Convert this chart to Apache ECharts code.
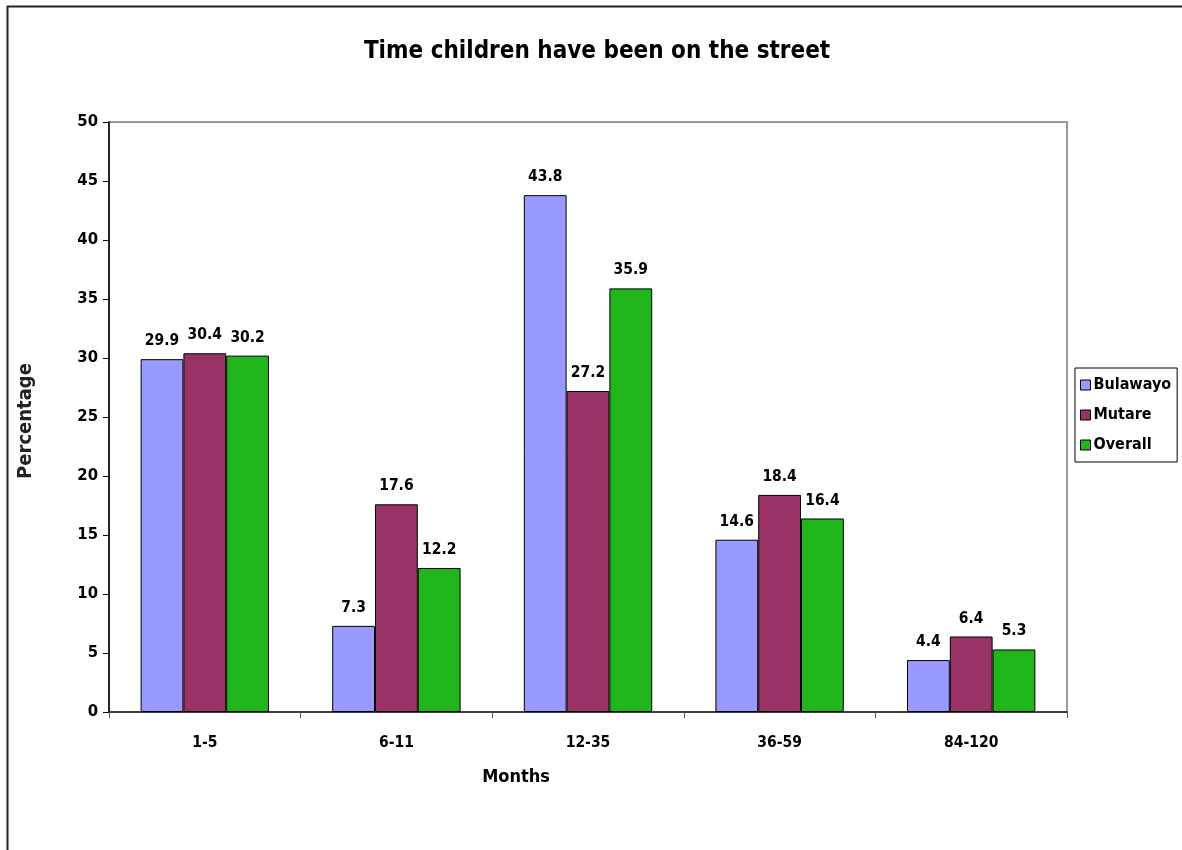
<!DOCTYPE html>
<html>
<head>
<meta charset="utf-8">
<script src="https://cdn.jsdelivr.net/npm/echarts@6/dist/echarts.min.js"></script>
<style>
  html, body { margin: 0; padding: 0; background: #fff; }
  #chart { width: 1182px; height: 850px; }
</style>
</head>
<body>
<div id="chart"></div>
<script>
// Duration categories (months) and percentage per site
const categories = ['1-5', '6-11', '12-35', '36-59', '84-120'];
const bulawayo = [29.9, 7.3, 43.8, 14.6, 4.4];
const mutare = [30.4, 17.6, 27.2, 18.4, 6.4];
const overall = [30.2, 12.2, 35.9, 16.4, 5.3];
const seriesNames = ['Bulawayo', 'Mutare', 'Overall'];
const yTicks = [0, 5, 10, 15, 20, 25, 30, 35, 40, 45, 50];

const FONT = '"DejaVu Sans Condensed", "Liberation Sans", Arial, sans-serif';
const colors = ['#9999FF', '#993366', '#20B51B'];

const chart = echarts.init(document.getElementById('chart'), null, { renderer: 'canvas' });

function barSeries(name, data, color) {
  return {
    name: name,
    type: 'bar',
    data: data,
    barGap: '0%',
    barCategoryGap: '33%',
    itemStyle: { color: color, borderColor: '#000', borderWidth: 1 },
    label: {
      show: true,
      position: 'top',
      distance: 10,
      fontFamily: FONT,
      fontWeight: 'bold',
      fontSize: 15.5,
      color: '#000',
      formatter: p => p.value.toFixed(1)
    }
  };
}

chart.setOption({
  animation: false,
  backgroundColor: '#fff',
  textStyle: { fontFamily: FONT },
  title: {
    text: 'Time children have been on the street',
    left: 592,
    top: 35,
    textAlign: 'center',
    textStyle: { fontFamily: FONT, fontWeight: 'bold', fontSize: 24, color: '#000' }
  },
  legend: {
    orient: 'vertical',
    left: 1075,
    top: 368,
    width: 102,
    padding: [9, 6, 9, 5],
    itemGap: 14,
    itemWidth: 10,
    itemHeight: 10,
    borderColor: '#000',
    borderWidth: 1,
    icon: 'rect',
    itemStyle: { borderColor: '#000', borderWidth: 1 },
    textStyle: { fontFamily: FONT, fontWeight: 'bold', fontSize: 16, color: '#000', padding: [0, 0, 0, -2] },
    data: seriesNames
  },
  grid: {
    left: 109,
    right: 115,
    top: 122,
    bottom: 138,
    show: true,
    borderColor: '#999',
    borderWidth: 2
  },
  xAxis: {
    type: 'category',
    data: categories,
    axisLine: { lineStyle: { color: '#222', width: 1.5 } },
    axisTick: { show: true, length: 6, inside: false, lineStyle: { color: '#555' } },
    axisLabel: { fontFamily: FONT, fontWeight: 'bold', fontSize: 15.5, color: '#000', margin: 23 }
  },
  yAxis: {
    type: 'value',
    min: yTicks[0],
    max: yTicks[yTicks.length - 1],
    interval: 5,
    axisLine: { show: true, lineStyle: { color: '#000', width: 1.5 } },
    axisTick: { show: true, length: 6, lineStyle: { color: '#000' } },
    splitLine: { show: false },
    axisLabel: { fontFamily: FONT, fontWeight: 'bold', fontSize: 16.5, color: '#000', margin: 11 }
  },
  graphic: [
    {
      type: 'rect',
      shape: { x: 7.5, y: 6.5, width: 1200, height: 900 },
      style: { fill: 'none', stroke: '#222', lineWidth: 2 },
      silent: true, z: 100
    },
    {
      type: 'text',
      x: 516, y: 777,
      style: {
        text: 'Months', fontFamily: FONT, fontWeight: 'bold', fontSize: 18,
        fill: '#000', align: 'center', verticalAlign: 'middle'
      }
    },
    {
      type: 'text',
      x: 26, y: 421, rotation: Math.PI / 2,
      style: {
        text: 'Percentage', fontFamily: FONT, fontWeight: 'bold', fontSize: 20,
        fill: '#222', align: 'center', verticalAlign: 'middle'
      }
    }
  ],
  series: [
    barSeries(seriesNames[0], bulawayo, colors[0]),
    barSeries(seriesNames[1], mutare, colors[1]),
    barSeries(seriesNames[2], overall, colors[2])
  ]
});
</script>
</body>
</html>
